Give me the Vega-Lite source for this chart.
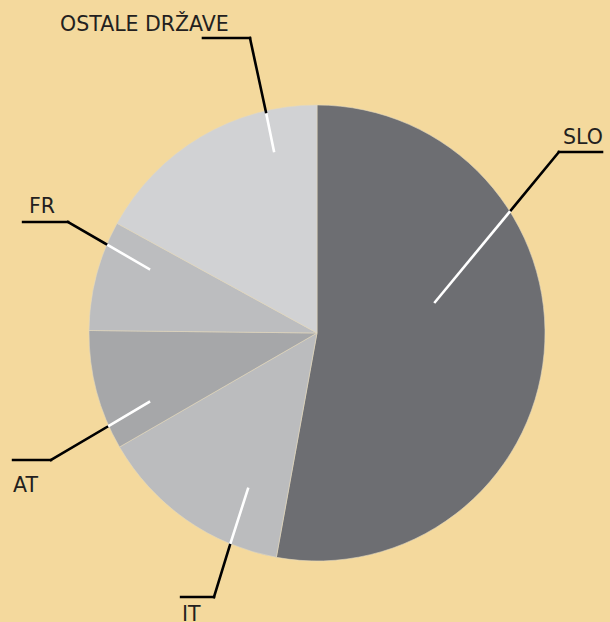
{
  "$schema": "https://vega.github.io/schema/vega-lite/v6.json",
  "width": 586,
  "height": 578,
  "autosize": "none",
  "padding": {"left": 24, "top": 44, "right": 0, "bottom": 0},
  "background": "#f4d99d",
  "config": {"view": {"stroke": null}},
  "datasets": {
    "shares": [
      {"country": "SLO", "share": 52.8, "rank": 1},
      {"country": "IT", "share": 13.8, "rank": 2},
      {"country": "AT", "share": 8.5, "rank": 3},
      {"country": "FR", "share": 7.8, "rank": 4},
      {"country": "OSTALE DRŽAVE", "share": 17.0, "rank": 5}
    ],
    "leaders": [
      {"country": "OSTALE DRŽAVE", "part": "inside", "x": -0.189, "y": 0.798, "x2": -0.224, "y2": 0.969},
      {"country": "OSTALE DRŽAVE", "part": "outside", "x": -0.224, "y": 0.969, "x2": -0.294, "y2": 1.294},
      {"country": "OSTALE DRŽAVE", "part": "outside", "x": -0.294, "y": 1.294, "x2": -0.5, "y2": 1.294},
      {"country": "SLO", "part": "inside", "x": 0.518, "y": 0.136, "x2": 0.851, "y2": 0.539},
      {"country": "SLO", "part": "outside", "x": 0.851, "y": 0.539, "x2": 1.061, "y2": 0.794},
      {"country": "SLO", "part": "outside", "x": 1.061, "y": 0.794, "x2": 1.25, "y2": 0.794},
      {"country": "FR", "part": "inside", "x": -0.737, "y": 0.281, "x2": -0.925, "y2": 0.39},
      {"country": "FR", "part": "outside", "x": -0.925, "y": 0.39, "x2": -1.092, "y2": 0.487},
      {"country": "FR", "part": "outside", "x": -1.092, "y": 0.487, "x2": -1.289, "y2": 0.487},
      {"country": "AT", "part": "inside", "x": -0.737, "y": -0.303, "x2": -0.921, "y2": -0.412},
      {"country": "AT", "part": "outside", "x": -0.921, "y": -0.412, "x2": -1.167, "y2": -0.557},
      {"country": "AT", "part": "outside", "x": -1.167, "y": -0.557, "x2": -1.333, "y2": -0.557},
      {"country": "IT", "part": "inside", "x": -0.303, "y": -0.684, "x2": -0.382, "y2": -0.93},
      {"country": "IT", "part": "outside", "x": -0.382, "y": -0.93, "x2": -0.452, "y2": -1.158},
      {"country": "IT", "part": "outside", "x": -0.452, "y": -1.158, "x2": -0.596, "y2": -1.158}
    ],
    "labels": [
      {"country": "SLO", "x": 1.079, "y": 0.829},
      {"country": "OSTALE DRŽAVE", "x": -1.127, "y": 1.325},
      {"country": "FR", "x": -1.263, "y": 0.526},
      {"country": "AT", "x": -1.333, "y": -0.697},
      {"country": "IT", "x": -0.592, "y": -1.263}
    ]
  },
  "layer": [
    {
      "data": {"name": "shares"},
      "mark": {"type": "arc", "outerRadius": 228, "stroke": "#e2d8c0", "strokeWidth": 0.6},
      "encoding": {
        "theta": {"field": "share", "type": "quantitative", "stack": true},
        "order": {"field": "rank", "type": "quantitative"},
        "color": {
          "field": "country",
          "type": "nominal",
          "scale": {
            "domain": ["SLO", "IT", "AT", "FR", "OSTALE DRŽAVE"],
            "range": ["#6d6e72", "#bbbcbe", "#a6a7a9", "#bcbdbf", "#d1d2d4"]
          },
          "legend": null
        }
      }
    },
    {
      "data": {"name": "leaders"},
      "mark": {"type": "rule", "strokeWidth": 2.6, "strokeCap": "square"},
      "encoding": {
        "x": {"field": "x", "type": "quantitative", "scale": {"domain": [-1.2851, 1.2851], "nice": false, "zero": false}, "axis": null},
        "y": {"field": "y", "type": "quantitative", "scale": {"domain": [-1.2675, 1.2675], "nice": false, "zero": false}, "axis": null},
        "x2": {"field": "x2"},
        "y2": {"field": "y2"},
        "color": {
          "field": "part",
          "type": "nominal",
          "scale": {"domain": ["inside", "outside"], "range": ["#ffffff", "#000000"]},
          "legend": null
        }
      }
    },
    {
      "data": {"name": "labels"},
      "mark": {"type": "text", "align": "left", "baseline": "alphabetic", "font": "DejaVu Sans", "fontSize": 20.5, "color": "#231f20"},
      "encoding": {
        "x": {"field": "x", "type": "quantitative", "scale": {"domain": [-1.2851, 1.2851], "nice": false, "zero": false}, "axis": null},
        "y": {"field": "y", "type": "quantitative", "scale": {"domain": [-1.2675, 1.2675], "nice": false, "zero": false}, "axis": null},
        "text": {"field": "country"}
      }
    }
  ],
  "resolve": {"scale": {"color": "independent"}}
}
